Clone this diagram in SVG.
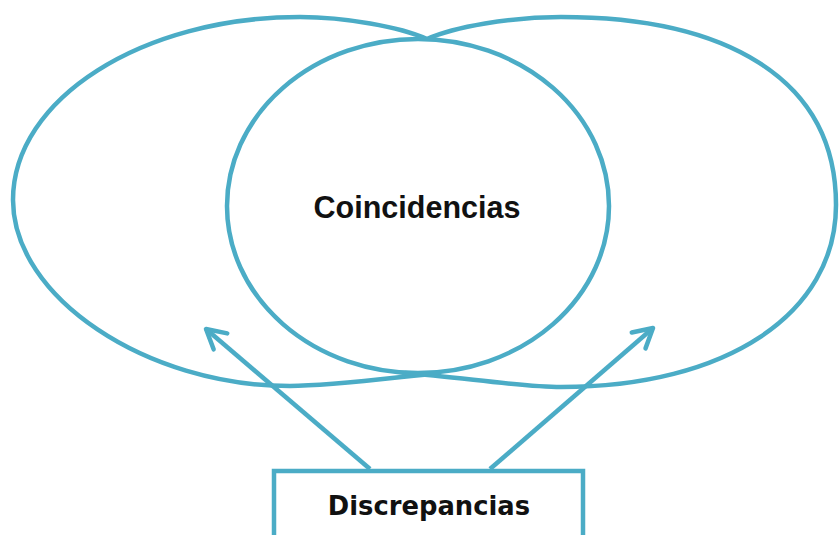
<svg xmlns="http://www.w3.org/2000/svg" width="839" height="535" viewBox="0 0 839 535">
  <style>
    .ln { fill: none; stroke: #4BACC6; stroke-width: 4.5; }
    .box { fill: #FFFFFF; stroke: #4BACC6; stroke-width: 4.5; }
    .t1 { font-family: "Liberation Sans", Arial, sans-serif; font-weight: bold; font-size: 30.5px; fill: #111111; }
    .t2 { font-family: "DejaVu Sans", Verdana, sans-serif; font-weight: bold; font-size: 25.8px; fill: #111111; }
  </style>
  <defs>
    <marker id="chev" markerUnits="userSpaceOnUse" viewBox="-24 -14 28 28" markerWidth="28" markerHeight="28" refX="0" refY="0" orient="auto">
      <path d="M-19,-10.5 L0,0 L-19,10.5" fill="none" stroke="#4BACC6" stroke-width="4.5" stroke-linejoin="round" stroke-linecap="round"/>
    </marker>
  </defs>
  <rect width="839" height="535" fill="#FFFFFF"/>
  <g id="conjunto-izquierdo">
    <path class="ln" d="M427,39 C400,27 345,17 300,17 C142,17 13,99 13,200 C13,297 146,386 290,386 C330,386 390,378 440,373"/>
  </g>
  <g id="conjunto-derecho">
    <path class="ln" d="M427,39 C454,27 510,17 561,17 C722,17 836,76 836,205 C836,314 726,387 561,387 C520,387 460,377 405,373"/>
  </g>
  <g id="coincidencias">
    <ellipse class="ln" cx="418" cy="206" rx="191" ry="167"/>
    <text class="t1" x="417" y="218" text-anchor="middle">Coincidencias</text>
  </g>
  <g id="connectors">
    <line class="ln" x1="370" y1="469" x2="206" y2="329" marker-end="url(#chev)"/>
    <line class="ln" x1="490" y1="469" x2="653" y2="328" marker-end="url(#chev)"/>
  </g>
  <g id="discrepancias">
    <rect class="box" x="274" y="471" width="309" height="80"/>
    <text class="t2" x="429" y="515" text-anchor="middle">Discrepancias</text>
  </g>
</svg>
